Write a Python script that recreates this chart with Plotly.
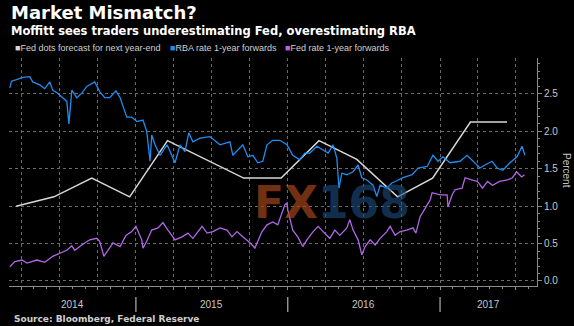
import plotly.graph_objects as go
from datetime import date

# ---------------- data ----------------
fed_dots_dates = ["2014-03-19", "2014-06-18", "2014-09-17", "2014-12-17", "2015-03-18",
                  "2015-06-17", "2015-09-17", "2015-12-16", "2016-03-16", "2016-06-15",
                  "2016-09-21", "2016-12-14", "2017-03-15", "2017-06-11"]
fed_dots_vals = [1.0, 1.125, 1.375, 1.125, 1.875, 1.625, 1.375, 1.375, 1.875, 1.625,
                 1.125, 1.375, 2.125, 2.125]

rba_dates = ["2014-03-04", "2014-03-08", "2014-03-20", "2014-04-04", "2014-04-21", "2014-04-28",
             "2014-05-15", "2014-05-27", "2014-06-08", "2014-06-15", "2014-06-27", "2014-07-10",
             "2014-07-19", "2014-07-24", "2014-07-31", "2014-08-12", "2014-08-24", "2014-09-05",
             "2014-09-24", "2014-10-06", "2014-10-18", "2014-10-30", "2014-11-14", "2014-11-24",
             "2014-12-03", "2014-12-10", "2014-12-22",
             "2015-01-03", "2015-01-18", "2015-01-27", "2015-02-04", "2015-02-08", "2015-02-16",
             "2015-02-28", "2015-03-17", "2015-04-05", "2015-04-17", "2015-04-29", "2015-05-08",
             "2015-05-18", "2015-06-04", "2015-06-28", "2015-07-22", "2015-08-15", "2015-08-22",
             "2015-09-15", "2015-09-27", "2015-10-09", "2015-10-21", "2015-11-02", "2015-11-12",
             "2015-11-26", "2015-12-13", "2015-12-30",
             "2016-01-13", "2016-01-30", "2016-02-11", "2016-02-23", "2016-03-11", "2016-03-26",
             "2016-04-07", "2016-04-19", "2016-04-28", "2016-05-03", "2016-05-10", "2016-05-22",
             "2016-06-06", "2016-06-18", "2016-06-27", "2016-07-09", "2016-07-24", "2016-08-02",
             "2016-08-10", "2016-08-26", "2016-09-07", "2016-09-15", "2016-10-04", "2016-10-26",
             "2016-11-09", "2016-12-01", "2016-12-15", "2016-12-27",
             "2017-01-08", "2017-01-25", "2017-02-18", "2017-03-07", "2017-03-21", "2017-04-07",
             "2017-04-19", "2017-05-06", "2017-05-18", "2017-06-01", "2017-06-18", "2017-07-05",
             "2017-07-17", "2017-07-24"]
rba_vals = [2.58, 2.67, 2.69, 2.72, 2.73, 2.66, 2.62, 2.57, 2.66, 2.55, 2.51, 2.45,
            2.40, 2.10, 2.55, 2.45, 2.51, 2.60, 2.66, 2.53, 2.45, 2.45, 2.54, 2.45,
            2.31, 2.19, 2.19,
            2.13, 2.15, 2.00, 1.60, 1.95, 1.82, 1.68, 1.82, 1.58, 1.82, 1.73, 1.98,
            1.86, 1.91, 1.93, 1.82, 1.86, 1.68, 1.82, 1.66, 1.68, 1.58, 1.60, 1.82,
            1.88, 1.88, 1.82,
            1.68, 1.62, 1.71, 1.71, 1.80, 1.75, 1.71, 1.82, 1.64, 1.24, 1.44, 1.42,
            1.46, 1.55, 1.38, 1.35, 1.28, 1.13, 1.28, 1.24, 1.31, 1.33, 1.38, 1.42,
            1.51, 1.53, 1.68, 1.60,
            1.66, 1.58, 1.60, 1.68, 1.60, 1.51, 1.55, 1.60, 1.51, 1.48, 1.58, 1.66,
            1.80, 1.68]

fedfwd_dates = ["2014-03-04", "2014-03-16", "2014-04-02", "2014-04-14", "2014-05-08", "2014-05-27",
                "2014-06-15", "2014-07-02", "2014-07-19", "2014-07-31", "2014-08-07", "2014-08-24",
                "2014-09-12", "2014-09-29", "2014-10-06", "2014-10-16", "2014-10-26", "2014-11-07",
                "2014-11-24", "2014-12-08", "2014-12-22",
                "2015-01-01", "2015-01-15", "2015-01-18", "2015-01-27", "2015-02-08", "2015-02-23",
                "2015-03-07", "2015-03-19", "2015-04-05", "2015-04-22", "2015-05-06", "2015-05-18",
                "2015-06-09", "2015-06-21", "2015-07-05", "2015-07-22", "2015-08-08", "2015-08-20",
                "2015-09-01", "2015-09-15", "2015-10-02", "2015-10-14", "2015-10-31", "2015-11-12",
                "2015-11-26", "2015-12-08", "2015-12-20", "2015-12-25", "2015-12-30",
                "2016-01-01", "2016-01-13", "2016-01-25", "2016-02-06", "2016-02-16", "2016-03-02",
                "2016-03-14", "2016-03-26", "2016-04-11", "2016-04-23", "2016-05-05", "2016-05-22",
                "2016-05-29", "2016-06-06", "2016-06-18", "2016-06-27", "2016-07-05", "2016-07-17",
                "2016-07-29", "2016-08-10", "2016-08-26", "2016-09-03", "2016-09-15", "2016-09-27",
                "2016-10-13", "2016-10-28", "2016-11-04", "2016-11-14", "2016-11-26", "2016-12-08",
                "2016-12-13",
                "2017-01-01", "2017-01-18", "2017-01-20", "2017-01-30", "2017-02-06", "2017-02-23",
                "2017-03-02", "2017-03-18", "2017-04-01", "2017-04-13", "2017-04-25", "2017-05-07",
                "2017-05-24", "2017-06-12", "2017-06-24", "2017-07-04", "2017-07-16", "2017-07-23"]
fedfwd_vals = [0.19, 0.26, 0.28, 0.24, 0.28, 0.25, 0.33, 0.37, 0.41, 0.47, 0.41, 0.48,
               0.55, 0.57, 0.53, 0.33, 0.41, 0.51, 0.46, 0.61, 0.66,
               0.73, 0.55, 0.44, 0.53, 0.68, 0.71, 0.78, 0.68, 0.55, 0.59, 0.64, 0.57,
               0.73, 0.64, 0.66, 0.71, 0.68, 0.59, 0.66, 0.59, 0.51, 0.44, 0.66, 0.75,
               0.79, 0.75, 0.93, 1.02, 1.04,
               0.95, 0.68, 0.59, 0.46, 0.55, 0.66, 0.73, 0.66, 0.57, 0.68, 0.61, 0.71,
               0.82, 0.68, 0.55, 0.35, 0.46, 0.55, 0.48, 0.57, 0.66, 0.73, 0.61, 0.66,
               0.68, 0.71, 0.64, 0.86, 0.98, 1.08, 1.18,
               1.15, 1.15, 0.99, 1.15, 1.22, 1.24, 1.38, 1.35, 1.33, 1.24, 1.33, 1.28,
               1.33, 1.35, 1.38, 1.46, 1.39, 1.42]

assert len(rba_dates) == len(rba_vals)
assert len(fedfwd_dates) == len(fedfwd_vals)

series_names = ["Fed dots forecast for next year-end", "RBA rate 1-year forwards",
                "Fed rate 1-year forwards"]
series_colors = ["#d8d8d8", "#1f8ef1", "#b266e8"]
year_labels = ["2014", "2015", "2016", "2017"]
x_range = ["2014-03-02", "2017-08-22"]
y_range = [-0.067, 2.98]

# ---------------- figure ----------------
W, H = 574, 326
ML, MR, MT, MB = 9, 37, 58, 40
PW, PH = W - ML - MR, H - MT - MB


def px_x(px):
    return (px - ML) / PW


def px_y(py):
    return (H - MB - py) / PH


fig = go.Figure()
fig.add_trace(go.Scatter(x=fed_dots_dates, y=fed_dots_vals, mode="lines",
                         line=dict(color=series_colors[0], width=1.5),
                         name=series_names[0], showlegend=False))
fig.add_trace(go.Scatter(x=rba_dates, y=rba_vals, mode="lines",
                         line=dict(color=series_colors[1], width=1.3),
                         name=series_names[1], showlegend=False))
fig.add_trace(go.Scatter(x=fedfwd_dates, y=fedfwd_vals, mode="lines",
                         line=dict(color=series_colors[2], width=1.3),
                         name=series_names[2], showlegend=False))

annotations = []
# title / subtitle
annotations.append(dict(text="<b>Market Mismatch?</b>", xref="paper", yref="paper",
                        x=px_x(9), y=px_y(13), xanchor="left", yanchor="middle",
                        showarrow=False, font=dict(family="DejaVu Sans", size=18, color="#ffffff")))
annotations.append(dict(text="<b>Moffitt sees traders underestimating Fed, overestimating RBA</b>",
                        xref="paper", yref="paper", x=px_x(9), y=px_y(31),
                        xanchor="left", yanchor="middle", showarrow=False,
                        font=dict(family="DejaVu Sans", size=11.5, color="#ffffff")))
# legend (manual)
legend_px = [13, 168, 283]
for name, col, lx in zip(series_names, series_colors, legend_px):
    annotations.append(dict(text=f'<span style="color:{col}">■</span>{name}',
                            xref="paper", yref="paper", x=px_x(lx), y=px_y(48),
                            xanchor="left", yanchor="middle", showarrow=False,
                            font=dict(family="Liberation Sans", size=9, color="#d0d0d0")))
# year labels centered in the visible part of each year
x0 = date.fromisoformat(x_range[0])
x1 = date.fromisoformat(x_range[1])
shapes = []
for yl in year_labels:
    ys = max(date(int(yl), 1, 1), x0)
    ye = min(date(int(yl) + 1, 1, 1), x1)
    mid = ys + (ye - ys) / 2
    annotations.append(dict(text=yl, xref="x", yref="paper", x=mid.isoformat(), y=px_y(304),
                            xanchor="center", yanchor="middle", showarrow=False,
                            font=dict(family="Liberation Sans", size=10, color="#c8c8c8")))
    if int(yl) > int(year_labels[0]):
        shapes.append(dict(type="line", xref="x", yref="paper",
                           x0=date(int(yl), 1, 1).isoformat(), x1=date(int(yl), 1, 1).isoformat(),
                           y0=px_y(297), y1=px_y(312), line=dict(color="#b0b0b0", width=1.2)))
# source
annotations.append(dict(text="<b>Source: Bloomberg, Federal Reserve</b>", xref="paper", yref="paper",
                        x=px_x(12), y=px_y(319), xanchor="left", yanchor="middle", showarrow=False,
                        font=dict(family="DejaVu Sans", size=9, color="#d0d0d0")))
# axis title
annotations.append(dict(text="Percent", xref="paper", yref="paper", x=px_x(567), y=px_y(170),
                        xanchor="center", yanchor="middle", showarrow=False, textangle=90,
                        font=dict(family="Liberation Sans", size=10, color="#c8c8c8")))
# watermark
annotations.append(dict(text='<b><span style="color:rgba(165,70,25,0.7)">FX</span>'
                             '<span style="color:rgba(30,80,130,0.6)">168</span></b>',
                        xref="paper", yref="paper", x=px_x(332), y=px_y(202),
                        xanchor="center", yanchor="middle", showarrow=False,
                        font=dict(family="DejaVu Sans", size=44, color="#888")))

fig.update_layout(
    width=W, height=H,
    margin=dict(l=ML, r=MR, t=MT, b=MB, pad=0),
    paper_bgcolor="#000000", plot_bgcolor="#000000",
    showlegend=False,
    annotations=annotations,
    shapes=shapes,
    xaxis=dict(type="date", range=x_range, showline=True, linecolor="#8a8a8a", linewidth=1,
               showticklabels=False, ticks="outside", ticklen=3, tickcolor="#8a8a8a",
               tick0="2014-01-01", dtick="M3",
               showgrid=True, gridcolor="#6a6a6a", griddash="dot", gridwidth=1,
               minor=dict(dtick="M1", tick0="2014-01-01", ticks="outside", ticklen=2,
                          tickcolor="#8a8a8a", showgrid=False),
               zeroline=False, fixedrange=True),
    yaxis=dict(side="right", range=y_range, showline=True, linecolor="#8a8a8a", linewidth=1,
               ticks="outside", ticklen=4, tickcolor="#8a8a8a", dtick=0.5, tick0=0,
               tickformat=".1f", tickfont=dict(family="Liberation Sans", size=10, color="#c8c8c8"),
               showgrid=True, gridcolor="#6a6a6a", griddash="dot", gridwidth=1,
               minor=dict(dtick=0.1, ticks="outside", ticklen=2, tickcolor="#8a8a8a", showgrid=False),
               zeroline=False, fixedrange=True),
)

fig.write_html("out.html")
